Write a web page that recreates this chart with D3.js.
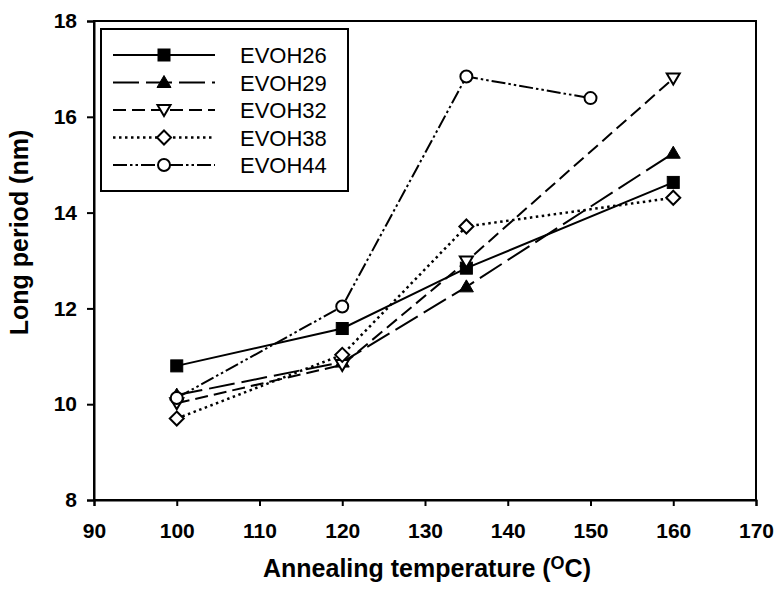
<!DOCTYPE html>
<html><head><meta charset="utf-8">
<script src="https://cdn.jsdelivr.net/npm/d3@7/dist/d3.min.js"></script>
<style>body{margin:0;background:#fff;} svg{display:block;}</style>
</head><body>
<svg id="c" width="775" height="598"></svg>
<script>
const seriesNames = ["EVOH26","EVOH29","EVOH32","EVOH38","EVOH44"];
const temps26 = [100,120,135,160];
const vals26  = [10.80,11.58,12.84,14.63];
const temps29 = [100,120,135,160];
const vals29  = [10.19,10.88,12.45,15.24];
const temps32 = [100,120,135,160];
const vals32  = [10.02,10.82,12.98,16.80];
const temps38 = [100,120,135,160];
const vals38  = [9.70,11.03,13.71,14.31];
const temps44 = [100,120,135,150];
const vals44  = [10.13,12.04,16.84,16.39];
const xTicks = [90,100,110,120,130,140,150,160,170];
const yTicks = [8,10,12,14,16,18];

const series = [
  {name:seriesNames[0], x:temps26, y:vals26, dash:null, marker:"square", fill:"#000"},
  {name:seriesNames[1], x:temps29, y:vals29, dash:"26,7", marker:"triangle", fill:"#000"},
  {name:seriesNames[2], x:temps32, y:vals32, dash:"13,6", marker:"triangleDown", fill:"#fff"},
  {name:seriesNames[3], x:temps38, y:vals38, dash:"2.5,3.5", marker:"diamond", fill:"#fff"},
  {name:seriesNames[4], x:temps44, y:vals44, dash:"14,3,2.5,3,2.5,3", marker:"circle", fill:"#fff"}
];

const svg = d3.select("#c");
const L=94, R=756, T=21, B=500;
const x = d3.scaleLinear().domain([90,170]).range([L,R]);
const y = d3.scaleLinear().domain([8,18]).range([B,T]);
const font = "Arial, 'Liberation Sans', sans-serif";

// frame
svg.append("rect").attr("x",L).attr("y",T).attr("width",R-L).attr("height",B-T)
  .attr("fill","none").attr("stroke","#000").attr("stroke-width",2);

// axes
const xAxis = svg.append("g").attr("transform",`translate(0,${B})`)
  .call(d3.axisBottom(x).tickValues(xTicks).tickSize(6).tickPadding(17).tickFormat(d3.format("d")));
const yAxis = svg.append("g").attr("transform",`translate(${L},0)`)
  .call(d3.axisLeft(y).tickValues(yTicks).tickSize(7).tickPadding(10).tickFormat(d3.format("d")));
[xAxis,yAxis].forEach(g=>{
  g.select(".domain").attr("stroke","#000").attr("stroke-width",2);
  g.selectAll(".tick line").attr("stroke","#000").attr("stroke-width",2);
  g.selectAll(".tick text").attr("fill","#000").style("font-family",font)
   .style("font-weight","bold").style("font-size","21px");
});

// axis titles
const xt = svg.append("text").attr("x",(L+R)/2+2).attr("y",577).attr("text-anchor","middle")
  .style("font-family",font).style("font-weight","bold").style("font-size","25px");
xt.append("tspan").text("Annealing temperature (");
xt.append("tspan").attr("dy",-8).style("font-size","18px").text("O");
xt.append("tspan").attr("dy",8).text("C)");

svg.append("text").attr("transform",`translate(28,${(T+B)/2-28}) rotate(-90)`)
  .attr("text-anchor","middle").style("font-family",font).style("font-weight","bold")
  .style("font-size","25px").text("Long period (nm)");

function drawMarker(g, type, cx, cy, fill){
  const sw = 2;
  if(type==="square"){
    g.append("rect").attr("x",cx-6).attr("y",cy-6).attr("width",12).attr("height",12).attr("fill",fill).attr("stroke","#000").attr("stroke-width",1);
  } else if(type==="triangle"){
    g.append("path").attr("d",`M${cx},${cy-7}L${cx+7},${cy+5}L${cx-7},${cy+5}Z`).attr("fill",fill).attr("stroke","#000").attr("stroke-width",1);
  } else if(type==="triangleDown"){
    g.append("path").attr("d",`M${cx-6.5},${cy-5}L${cx+6.5},${cy-5}L${cx},${cy+6}Z`).attr("fill",fill).attr("stroke","#000").attr("stroke-width",sw);
  } else if(type==="diamond"){
    g.append("path").attr("d",`M${cx},${cy-7}L${cx+7},${cy}L${cx},${cy+7}L${cx-7},${cy}Z`).attr("fill",fill).attr("stroke","#000").attr("stroke-width",sw);
  } else if(type==="circle"){
    g.append("circle").attr("cx",cx).attr("cy",cy).attr("r",6).attr("fill",fill).attr("stroke","#000").attr("stroke-width",sw);
  }
}

const line = d3.line().x(d=>x(d[0])).y(d=>y(d[1]));
series.forEach(s=>{
  const pts = s.x.map((v,i)=>[v,s.y[i]]);
  svg.append("path").datum(pts).attr("d",line).attr("fill","none")
    .attr("stroke","#000").attr("stroke-width", s.marker==="diamond"?2.5:2)
    .attr("stroke-dasharray", s.dash);
});
series.forEach(s=>{
  const g = svg.append("g");
  s.x.forEach((v,i)=>drawMarker(g, s.marker, x(v), y(s.y[i]), s.fill));
});

// legend
const lg = svg.append("g");
lg.append("rect").attr("x",101).attr("y",29).attr("width",247).attr("height",162)
  .attr("fill","#fff").attr("stroke","#000").attr("stroke-width",2);
series.forEach((s,i)=>{
  const cy = 55 + i*27.5;
  lg.append("line").attr("x1",113).attr("x2",215).attr("y1",cy).attr("y2",cy)
    .attr("stroke","#000").attr("stroke-width", s.marker==="diamond"?2.5:2)
    .attr("stroke-dasharray", s.dash);
  drawMarker(lg, s.marker, 164, cy, s.fill);
  lg.append("text").attr("x",240).attr("y",cy+8).style("font-family",font)
    .style("font-size","22px").text(s.name);
});
</script>
</body></html>
